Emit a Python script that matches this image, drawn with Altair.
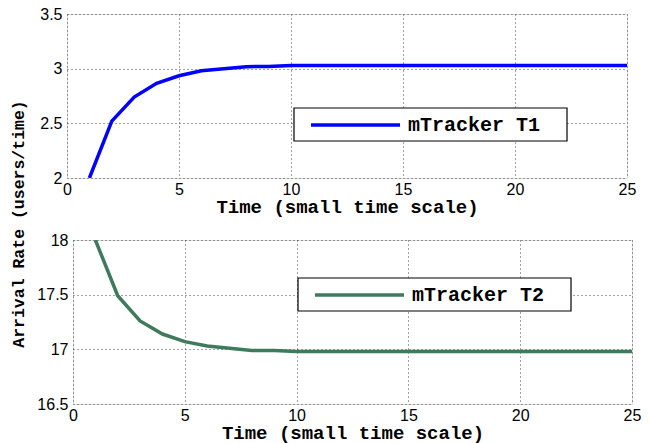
import altair as alt
import pandas as pd

time_pts = list(range(1, 26))
t1_vals = [2.00, 2.52, 2.74, 2.866, 2.935, 2.98, 3.00, 3.018, 3.02, 3.03,
           3.03, 3.03, 3.03, 3.03, 3.03, 3.03, 3.03, 3.03, 3.03, 3.03,
           3.03, 3.03, 3.03, 3.03, 3.03]
t2_vals = [18.00, 17.49, 17.26, 17.14, 17.07, 17.03, 17.01, 16.99, 16.99, 16.98,
           16.98, 16.98, 16.98, 16.98, 16.98, 16.98, 16.98, 16.98, 16.98, 16.98,
           16.98, 16.98, 16.98, 16.98, 16.98]
series_names = ["mTracker T1", "mTracker T2"]
series_colors = ["#0000ff", "#3f7a5c"]
x_ticks = [0, 5, 10, 15, 20, 25]
y1_ticks = [2, 2.5, 3, 3.5]
y2_ticks = [16.5, 17, 17.5, 18]

x_title = "Time (small time scale)"
y_title = "Arrival Rate (users/time)"

MONO = "Liberation Mono"
SANS = "Liberation Sans"
H = 164

df1 = pd.DataFrame({"t": time_pts, "v": t1_vals})
df2 = pd.DataFrame({"t": time_pts, "v": t2_vals})


def panel(df, yticks, name, color, leg_x, leg_y, width):
    xaxis = alt.Axis(values=x_ticks, title=x_title, grid=True, gridDash=[1, 3],
                     gridColor="#444", labelFont=SANS, labelFontSize=16,
                     labelColor="black", titleFont=MONO, titleFontSize=19,
                     titleFontWeight="bold", titleColor="black", domain=False,
                     ticks=False, labelPadding=3, titlePadding=0,
                     labelFlush=False)
    yaxis = alt.Axis(values=yticks, grid=True, gridDash=[1, 3], gridColor="#444",
                     labelFont=SANS, labelFontSize=16, labelColor="black",
                     domain=False, ticks=False, labelPadding=5, format="~g",
                     title=None)
    line = alt.Chart(df).mark_line(color=color, strokeWidth=3.5, clip=True).encode(
        x=alt.X("t:Q", scale=alt.Scale(domain=[0, 25], nice=False), axis=xaxis),
        y=alt.Y("v:Q", scale=alt.Scale(domain=[yticks[0], yticks[-1]], nice=False,
                                       zero=False), axis=yaxis),
    )
    leg = pd.DataFrame({"label": [name]})
    box = alt.Chart(leg).mark_rect(fill="white", stroke="black", strokeWidth=1.2).encode(
        x=alt.value(leg_x), x2=alt.value(leg_x + 273),
        y=alt.value(leg_y), y2=alt.value(leg_y + 33))
    sym = alt.Chart(leg).mark_rule(color=color, strokeWidth=3.5).encode(
        x=alt.value(leg_x + 17), x2=alt.value(leg_x + 106),
        y=alt.value(leg_y + 17))
    txt = alt.Chart(leg).mark_text(font=MONO, fontSize=20, fontWeight="bold",
                                   align="left", baseline="middle",
                                   color="black").encode(
        x=alt.value(leg_x + 114), y=alt.value(leg_y + 17), text="label:N")
    return alt.layer(line, box, sym, txt).properties(width=width, height=H)


def spacer():
    return alt.Chart(pd.DataFrame({"a": [0]})).mark_point(size=1, opacity=0).encode(
        x=alt.value(0), y=alt.value(0)).properties(
        width=1, height=H, view=alt.ViewBackground(stroke="transparent"))


top = panel(df1, y1_ticks, series_names[0], series_colors[0], 227, 94, 560)
bot = panel(df2, y2_ticks, series_names[1], series_colors[1], 225, 38, 559)

top_row = alt.hconcat(spacer(), top, spacing=3)
bottom_row = alt.hconcat(spacer(), bot, spacing=0)

chart = alt.vconcat(top_row, bottom_row, spacing=14).properties(
    title=alt.TitleParams(y_title, orient="left", anchor="middle", font=MONO,
                          fontSize=16.5, fontWeight="bold", color="black",
                          offset=6),
    padding={"left": 2, "top": -3, "right": 0, "bottom": 0}
).configure_view(stroke="black", strokeWidth=1.2).configure(background="white")

chart.save("out.html", embed_options={"renderer": "svg", "actions": False})
